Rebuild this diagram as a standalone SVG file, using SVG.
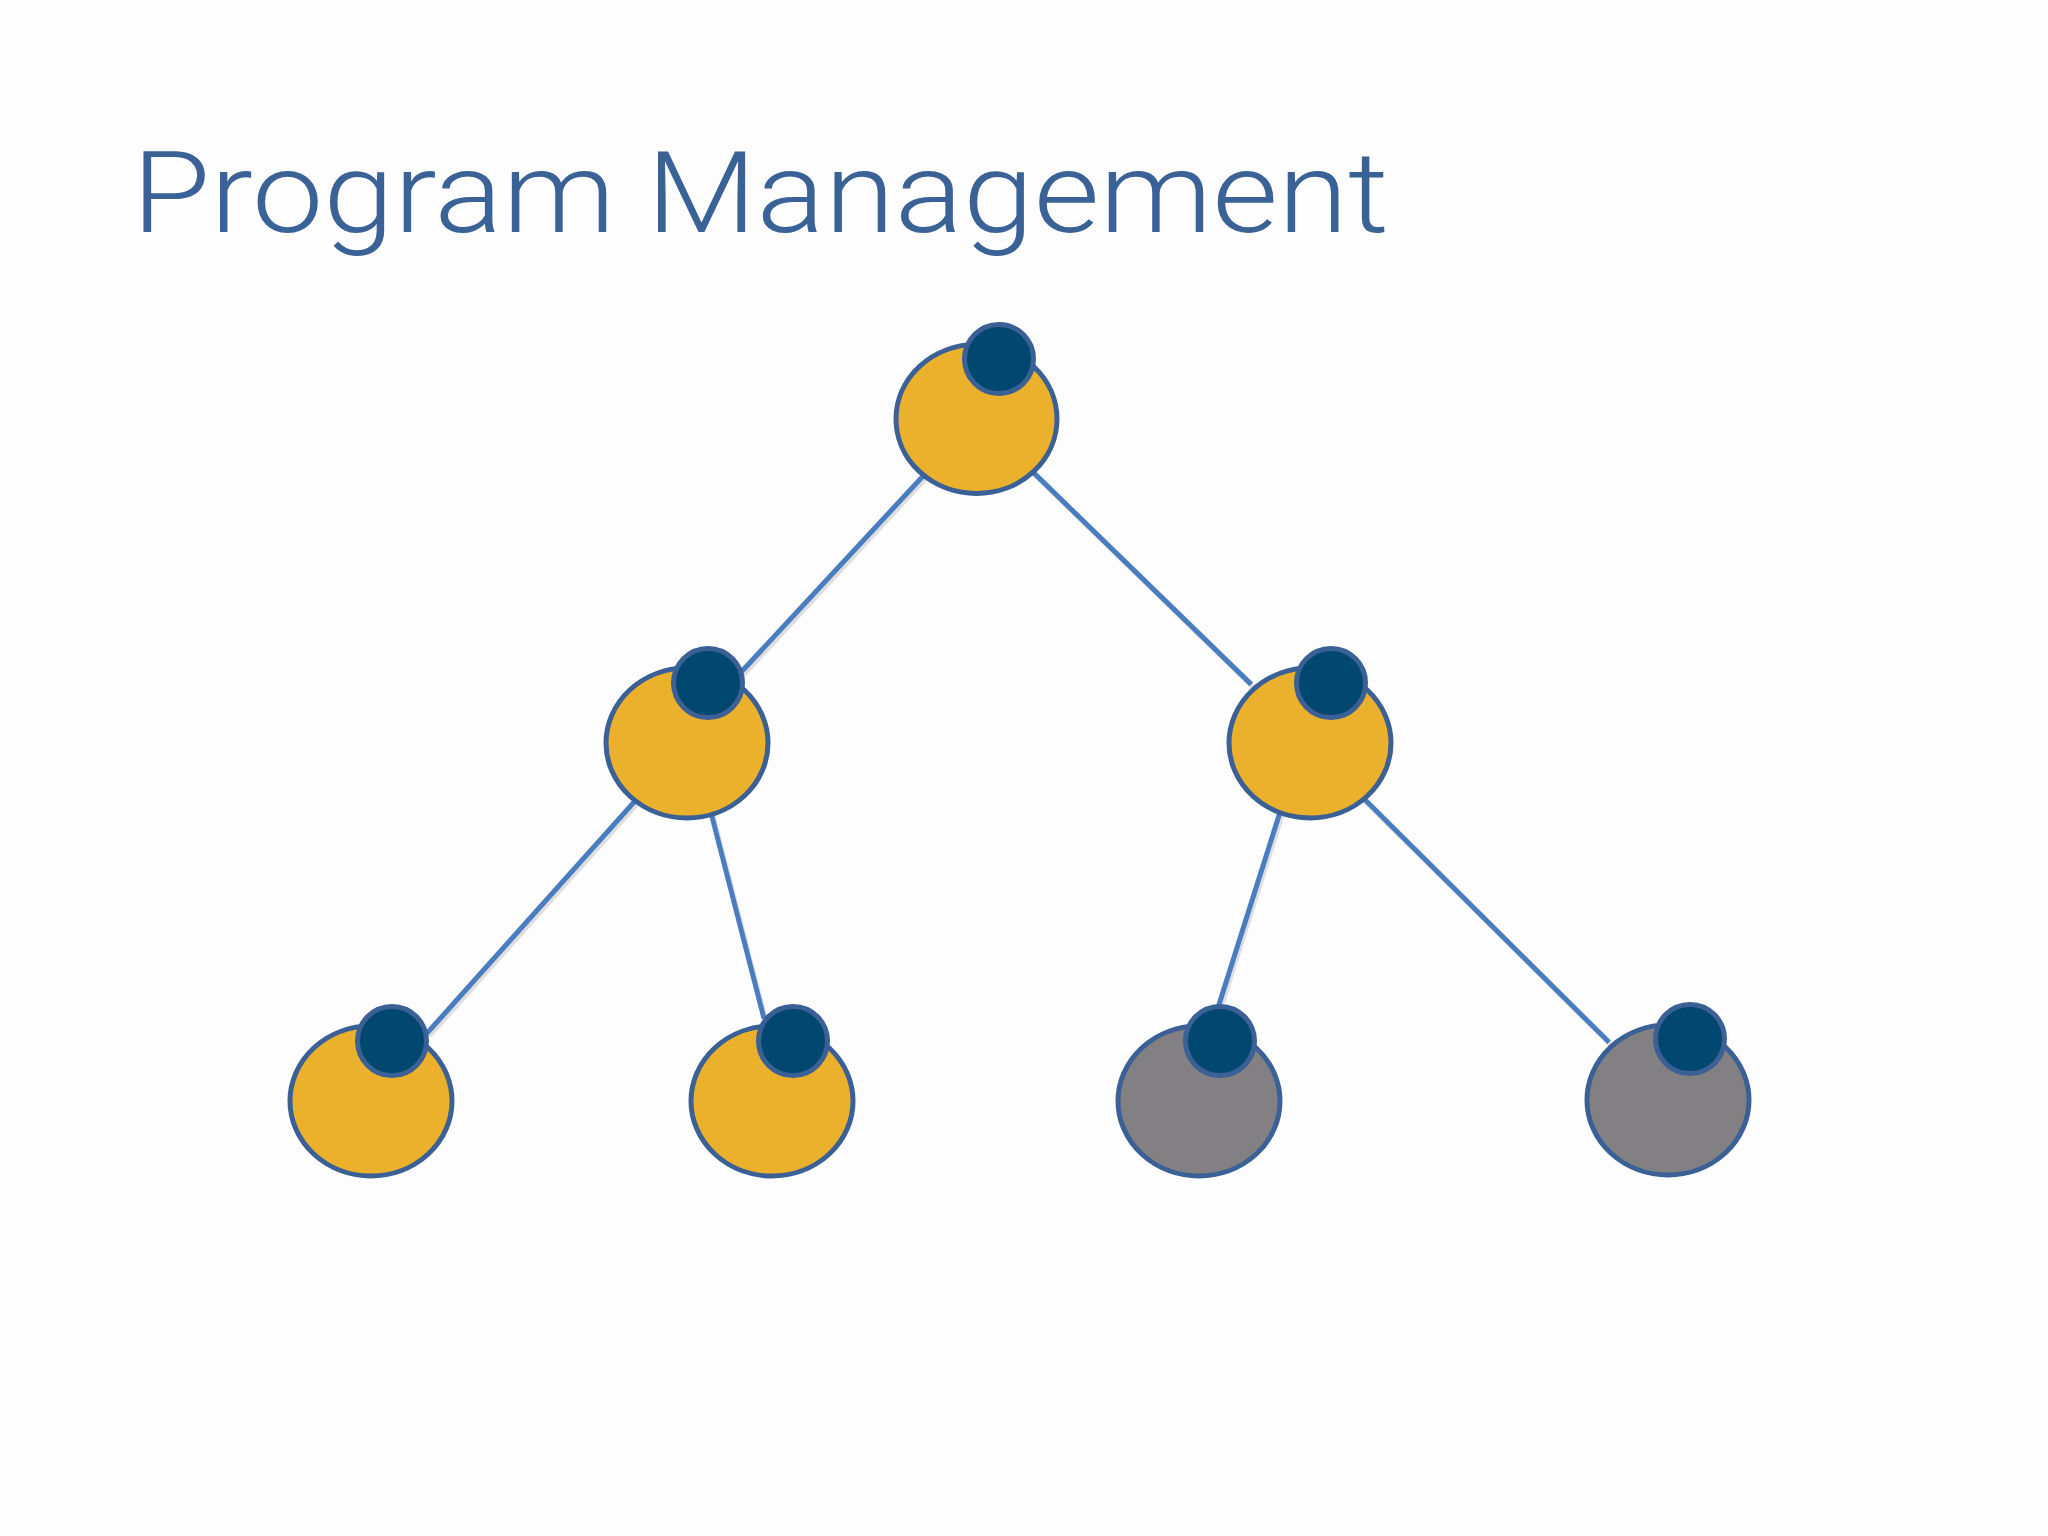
<svg xmlns="http://www.w3.org/2000/svg" width="2048" height="1536" viewBox="0 0 2048 1536">
<style>
.title{font-family:"Roboto","Liberation Sans",sans-serif;font-weight:300;font-size:113px;fill:#3A6296}
.outer{stroke:#3A6096;stroke-width:5}
.y{fill:#EBB12C}
.g{fill:#828083}
.dot{fill:#02476F;stroke:#3A6096;stroke-width:5}
.edge{stroke:#4A7DBF;stroke-width:5;fill:none}
.shadow{stroke:#000;stroke-opacity:0.12;stroke-width:5;fill:none}
</style>
<rect width="2048" height="1536" fill="#FDFDFD"/>
<text class="title" x="132" y="232" textLength="1257" lengthAdjust="spacingAndGlyphs">Program Management</text>
<g id="connectors">
<g transform="translate(2,3)">
<line class="shadow" x1="976" y1="419" x2="741.9" y2="671.3"/>
<line class="shadow" x1="1000" y1="440" x2="1251.3" y2="684.4"/>
<line class="shadow" x1="687" y1="743" x2="427.1" y2="1033.1"/>
<line class="shadow" x1="700" y1="770" x2="764.1" y2="1018.8"/>
<line class="shadow" x1="1295" y1="765" x2="1218.6" y2="1005.7"/>
<line class="shadow" x1="1320" y1="755" x2="1609.1" y2="1042.3"/>
</g>
<line class="edge" x1="976" y1="419" x2="741.9" y2="671.3"/>
<line class="edge" x1="1000" y1="440" x2="1251.3" y2="684.4"/>
<line class="edge" x1="687" y1="743" x2="427.1" y2="1033.1"/>
<line class="edge" x1="700" y1="770" x2="764.1" y2="1018.8"/>
<line class="edge" x1="1295" y1="765" x2="1218.6" y2="1005.7"/>
<line class="edge" x1="1320" y1="755" x2="1609.1" y2="1042.3"/>
</g>
<g id="node-top">
<ellipse class="outer y" cx="976.5" cy="419" rx="80.5" ry="74.5"/>
<circle class="dot" cx="999" cy="359" r="34.5"/>
</g>
<g id="node-mid-left">
<ellipse class="outer y" cx="687" cy="743" rx="81" ry="75"/>
<circle class="dot" cx="708" cy="683" r="34.5"/>
</g>
<g id="node-mid-right">
<ellipse class="outer y" cx="1310" cy="743" rx="81" ry="75"/>
<circle class="dot" cx="1331" cy="683" r="34.5"/>
</g>
<g id="node-bottom-1">
<ellipse class="outer y" cx="371" cy="1101" rx="81" ry="75"/>
<circle class="dot" cx="392" cy="1041" r="34.5"/>
</g>
<g id="node-bottom-2">
<ellipse class="outer y" cx="772" cy="1101" rx="81" ry="75"/>
<circle class="dot" cx="793" cy="1041" r="34.5"/>
</g>
<g id="node-bottom-3">
<ellipse class="outer g" cx="1199" cy="1101" rx="81" ry="75"/>
<circle class="dot" cx="1220" cy="1041" r="34.5"/>
</g>
<g id="node-bottom-4">
<ellipse class="outer g" cx="1668" cy="1100" rx="81" ry="75"/>
<circle class="dot" cx="1690" cy="1039" r="34.5"/>
</g>
</svg>
